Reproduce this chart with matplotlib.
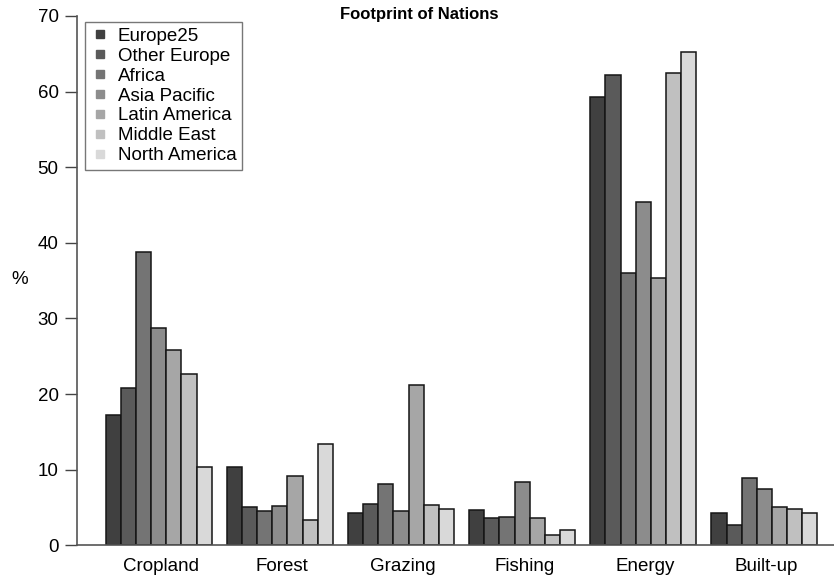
import numpy as np
import matplotlib
matplotlib.use("Agg")
from matplotlib import pyplot as plt
from matplotlib.lines import Line2D

plt.rcParams['font.family'] = ['Liberation Sans', 'DejaVu Sans']

categories = ['Cropland', 'Forest', 'Grazing', 'Fishing', 'Energy', 'Built-up']
regions = ['Europe25', 'Other Europe', 'Africa', 'Asia Pacific',
           'Latin America', 'Middle East', 'North America']
colors = ['#404040', '#5a5a5a', '#747474', '#8c8c8c', '#a6a6a6', '#c0c0c0', '#d9d9d9']

# rows = regions, columns = categories (percent)
europe25 = [17.2, 10.4, 4.3, 4.7, 59.3, 4.3]
other_europe = [20.8, 5.1, 5.4, 3.6, 62.2, 2.7]
africa = [38.8, 4.6, 8.1, 3.7, 36.0, 8.9]
asia_pacific = [28.8, 5.2, 4.5, 8.4, 45.4, 7.5]
latin_america = [25.8, 9.1, 21.2, 3.6, 35.3, 5.1]
middle_east = [22.7, 3.4, 5.3, 1.4, 62.4, 4.8]
north_america = [10.4, 13.4, 4.8, 2.0, 65.3, 4.3]
values = [europe25, other_europe, africa, asia_pacific,
          latin_america, middle_east, north_america]

fig = plt.figure(figsize=(8.34, 5.79), dpi=100)
ax = fig.add_axes([76.7 / 834, 33.7 / 579, 1 - 76.7 / 834, (545.3 - 16) / 579])

n = len(regions)
for i, (vals, c) in enumerate(zip(values, colors)):
    x = np.arange(len(categories)) * (n + 1) + 1 + i
    ax.bar(x, vals, width=1.0, align='edge', color=c, edgecolor='#151515', linewidth=1.1)

centers = np.arange(len(categories)) * (n + 1) + 1 + n / 2
ax.set_xticks(centers + 0.15)
ax.set_xticklabels(categories, fontsize=13.5)
ax.tick_params(axis='x', length=0, pad=9)
ax.set_xlim(-0.92, 49.1)
ax.set_ylim(0, 70)
ax.set_yticks(range(0, 71, 10))
ax.tick_params(axis='y', labelsize=13.5, length=9, width=1, color='#444444', pad=4)

ax.spines['top'].set_visible(False)
ax.spines['right'].set_visible(False)
ax.spines['left'].set_color('#555555')
ax.spines['bottom'].set_color('#555555')
ax.spines['left'].set_linewidth(1.2)
ax.spines['bottom'].set_linewidth(1.2)
ax.patch.set_visible(False)

fig.text(20 / 834, 1 - 280 / 579, '%', fontsize=13.5, ha='center', va='center')
fig.text(419 / 834, 1 - 15 / 579, 'Footprint of Nations', fontsize=12,
         fontweight='bold', ha='center', va='center')

handles = [Line2D([], [], marker='s', linestyle='none', markersize=6,
                  markerfacecolor=c, markeredgecolor=c) for c in colors]
leg = ax.legend(handles, regions, loc='upper left', bbox_to_anchor=(85 / 834, 1 - 22 / 579),
                bbox_transform=fig.transFigure, fontsize=13.5, frameon=True, fancybox=False,
                borderpad=0.3, labelspacing=0.15, handletextpad=0.45, handlelength=1.0,
                borderaxespad=0)
leg.get_frame().set_edgecolor('#555555')
leg.get_frame().set_linewidth(1.0)

plt.savefig('out.png', dpi=100)
plt.close()
